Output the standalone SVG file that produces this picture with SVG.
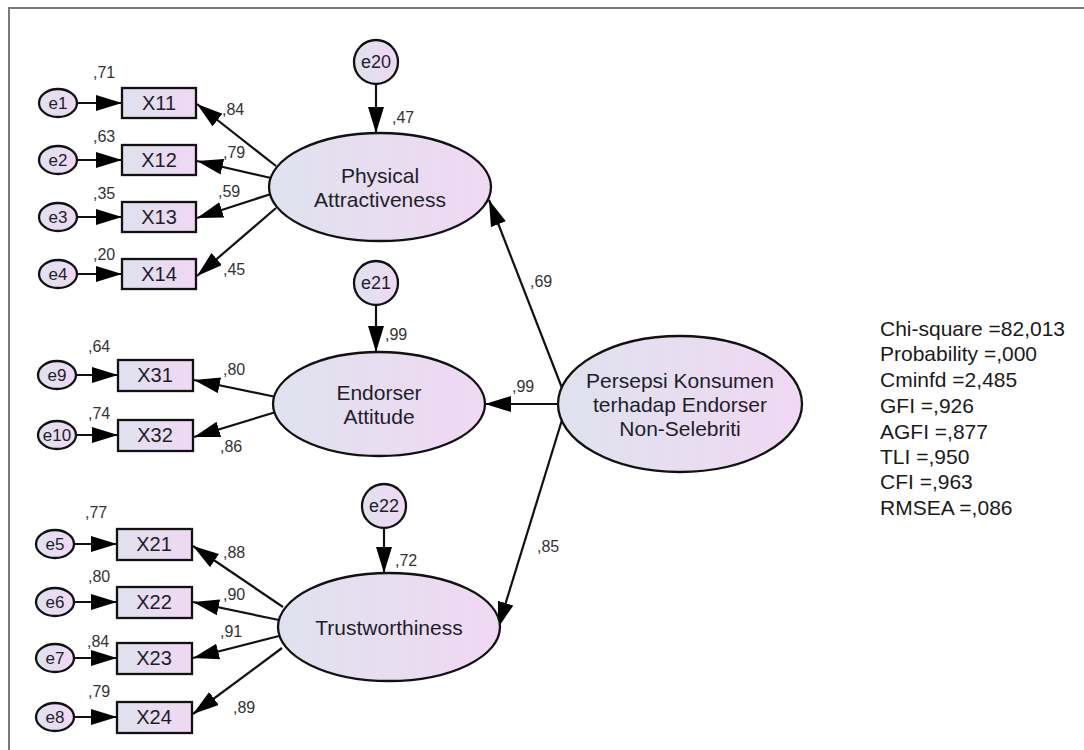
<svg xmlns="http://www.w3.org/2000/svg" width="1084" height="750" viewBox="0 0 1084 750">
  <defs>
    <linearGradient id="fillGrad" x1="0" y1="0" x2="1" y2="0">
      <stop offset="0" stop-color="#dfe2ee"/>
      <stop offset="1" stop-color="#f0d8f3"/>
    </linearGradient>
    <marker id="ah" markerUnits="userSpaceOnUse" markerWidth="28" markerHeight="18" refX="26" refY="8" orient="auto">
      <path d="M0,0 L26,8 L0,16 z" fill="#000"/>
    </marker>
    <style>
      .shape { fill: url(#fillGrad); stroke: #111; stroke-width: 2.3; }
      .conn line { stroke: #111; stroke-width: 2.2; marker-end: url(#ah); }
      .t { font-family: "Liberation Sans", Arial, sans-serif; fill: #1e1e2a; text-anchor: middle; dominant-baseline: central; }
      .tb { font-size: 20px; }
      .te { font-size: 17px; }
      .tc { font-size: 18px; }
      .tl { font-size: 21px; }
      .lab { font-family: "Liberation Sans", Arial, sans-serif; font-size: 16px; fill: #333; }
      .fit { font-family: "Liberation Sans", Arial, sans-serif; font-size: 21px; fill: #1a1a1a; }
    </style>
  </defs>

  <rect width="1084" height="750" fill="#fff"/>
  <!-- frame -->
  <path d="M9,750 L9,8 L1084,8" fill="none" stroke="#7a7a7a" stroke-width="2"/>

  <!-- connectors -->
  <g id="connectors" class="conn">
    <!-- error terms to indicators -->
    <line x1="77" y1="103" x2="122" y2="103"/>
    <line x1="77" y1="160" x2="122" y2="160"/>
    <line x1="77" y1="217" x2="122" y2="217"/>
    <line x1="77" y1="274" x2="122" y2="274"/>
    <line x1="76" y1="375" x2="118" y2="375"/>
    <line x1="76" y1="435" x2="118" y2="435"/>
    <line x1="74" y1="544" x2="117" y2="544"/>
    <line x1="74" y1="602" x2="117" y2="602"/>
    <line x1="74" y1="658" x2="117" y2="658"/>
    <line x1="74" y1="717" x2="117" y2="717"/>
    <!-- loadings -->
    <line x1="276" y1="166" x2="197" y2="104"/>
    <line x1="271" y1="178" x2="197" y2="161"/>
    <line x1="271" y1="194" x2="197" y2="218"/>
    <line x1="276" y1="208" x2="197" y2="276"/>
    <line x1="276" y1="397" x2="194" y2="380"/>
    <line x1="276" y1="412" x2="194" y2="437"/>
    <line x1="283" y1="607" x2="193" y2="546"/>
    <line x1="279" y1="620" x2="193" y2="602"/>
    <line x1="279" y1="636" x2="193" y2="658"/>
    <line x1="282" y1="648" x2="193" y2="714"/>
    <!-- disturbances -->
    <line x1="376" y1="84" x2="376" y2="133"/>
    <line x1="376" y1="305" x2="376" y2="352"/>
    <line x1="384" y1="528" x2="384" y2="573"/>
    <!-- second-order paths -->
    <line x1="562" y1="388" x2="489" y2="200"/>
    <line x1="558" y1="404" x2="485" y2="404"/>
    <line x1="562" y1="420" x2="498" y2="628"/>
  </g>

  <!-- error terms -->
  <g id="e1"><ellipse class="shape" cx="58" cy="103" rx="19" ry="14"/><text class="t te" x="58" y="103">e1</text></g>
  <g id="e2"><ellipse class="shape" cx="58" cy="160" rx="19" ry="14"/><text class="t te" x="58" y="160">e2</text></g>
  <g id="e3"><ellipse class="shape" cx="58" cy="217" rx="19" ry="14"/><text class="t te" x="58" y="217">e3</text></g>
  <g id="e4"><ellipse class="shape" cx="58" cy="274" rx="19" ry="14"/><text class="t te" x="58" y="274">e4</text></g>
  <g id="e9"><ellipse class="shape" cx="57" cy="375" rx="19" ry="14"/><text class="t te" x="57" y="375">e9</text></g>
  <g id="e10"><ellipse class="shape" cx="57" cy="435" rx="19" ry="14"/><text class="t te" x="57" y="435">e10</text></g>
  <g id="e5"><ellipse class="shape" cx="55" cy="544" rx="19" ry="14"/><text class="t te" x="55" y="544">e5</text></g>
  <g id="e6"><ellipse class="shape" cx="55" cy="602" rx="19" ry="14"/><text class="t te" x="55" y="602">e6</text></g>
  <g id="e7"><ellipse class="shape" cx="55" cy="658" rx="19" ry="14"/><text class="t te" x="55" y="658">e7</text></g>
  <g id="e8"><ellipse class="shape" cx="55" cy="717" rx="19" ry="14"/><text class="t te" x="55" y="717">e8</text></g>
  <g id="e20"><circle class="shape" cx="376" cy="62" r="22"/><text class="t tc" x="376" y="62">e20</text></g>
  <g id="e21"><circle class="shape" cx="376" cy="283" r="22"/><text class="t tc" x="376" y="283">e21</text></g>
  <g id="e22"><circle class="shape" cx="384" cy="506" r="22"/><text class="t tc" x="384" y="506">e22</text></g>

  <!-- indicators -->
  <g id="X11"><rect class="shape" x="122" y="88" width="74" height="30"/><text class="t tb" x="159" y="103">X11</text></g>
  <g id="X12"><rect class="shape" x="122" y="145" width="74" height="30"/><text class="t tb" x="159" y="160">X12</text></g>
  <g id="X13"><rect class="shape" x="122" y="202" width="74" height="30"/><text class="t tb" x="159" y="217">X13</text></g>
  <g id="X14"><rect class="shape" x="122" y="259" width="74" height="30"/><text class="t tb" x="159" y="274">X14</text></g>
  <g id="X31"><rect class="shape" x="118" y="360" width="75" height="31"/><text class="t tb" x="155" y="375">X31</text></g>
  <g id="X32"><rect class="shape" x="118" y="420" width="75" height="31"/><text class="t tb" x="155" y="435">X32</text></g>
  <g id="X21"><rect class="shape" x="117" y="529" width="75" height="31"/><text class="t tb" x="154" y="544">X21</text></g>
  <g id="X22"><rect class="shape" x="117" y="587" width="75" height="31"/><text class="t tb" x="154" y="602">X22</text></g>
  <g id="X23"><rect class="shape" x="117" y="643" width="75" height="31"/><text class="t tb" x="154" y="658">X23</text></g>
  <g id="X24"><rect class="shape" x="117" y="702" width="75" height="31"/><text class="t tb" x="154" y="717">X24</text></g>

  <!-- latent variables -->
  <g id="physical-attractiveness">
    <ellipse class="shape" cx="380" cy="187" rx="111" ry="54"/>
    <text class="t tl" x="380" y="175">Physical</text>
    <text class="t tl" x="380" y="199">Attractiveness</text>
  </g>
  <g id="endorser-attitude">
    <ellipse class="shape" cx="379" cy="404" rx="106" ry="52"/>
    <text class="t tl" x="379" y="392">Endorser</text>
    <text class="t tl" x="379" y="416">Attitude</text>
  </g>
  <g id="trustworthiness">
    <ellipse class="shape" cx="389" cy="627" rx="111" ry="54"/>
    <text class="t tl" x="389" y="627">Trustworthiness</text>
  </g>
  <g id="persepsi">
    <ellipse class="shape" cx="680" cy="404" rx="122" ry="68"/>
    <text class="t tl" x="680" y="380">Persepsi Konsumen</text>
    <text class="t tl" x="680" y="404">terhadap Endorser</text>
    <text class="t tl" x="680" y="428">Non-Selebriti</text>
  </g>

  <!-- estimates -->
  <g id="estimates" class="lab">
    <text x="93" y="78">,71</text>
    <text x="93" y="142">,63</text>
    <text x="93" y="199">,35</text>
    <text x="93" y="260">,20</text>
    <text x="222" y="115">,84</text>
    <text x="223" y="158">,79</text>
    <text x="218" y="197">,59</text>
    <text x="223" y="275">,45</text>
    <text x="392" y="123">,47</text>
    <text x="88" y="352">,64</text>
    <text x="88" y="419">,74</text>
    <text x="223" y="375">,80</text>
    <text x="220" y="452">,86</text>
    <text x="385" y="340">,99</text>
    <text x="530" y="287">,69</text>
    <text x="512" y="392">,99</text>
    <text x="537" y="552">,85</text>
    <text x="395" y="566">,72</text>
    <text x="85" y="518">,77</text>
    <text x="88" y="582">,80</text>
    <text x="87" y="647">,84</text>
    <text x="88" y="697">,79</text>
    <text x="223" y="558">,88</text>
    <text x="223" y="600">,90</text>
    <text x="220" y="637">,91</text>
    <text x="233" y="713">,89</text>
  </g>

  <!-- fit indices -->
  <g id="fit-indices" class="fit">
    <text x="880" y="336">Chi-square =82,013</text>
    <text x="880" y="361">Probability =,000</text>
    <text x="880" y="387">Cminfd =2,485</text>
    <text x="880" y="413">GFI =,926</text>
    <text x="880" y="439">AGFI =,877</text>
    <text x="880" y="464">TLI =,950</text>
    <text x="880" y="489">CFI =,963</text>
    <text x="880" y="515">RMSEA =,086</text>
  </g>
</svg>
